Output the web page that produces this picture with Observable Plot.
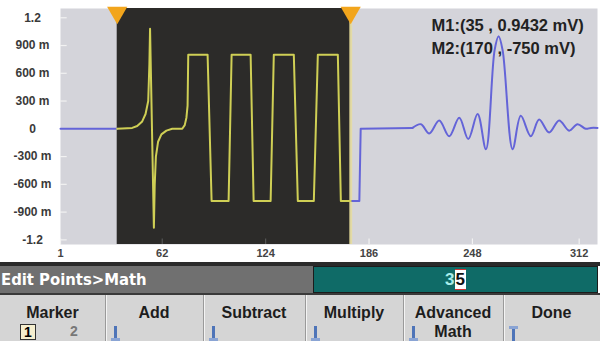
<!DOCTYPE html>
<html><head><meta charset="utf-8">
<script src="https://cdn.jsdelivr.net/npm/d3@7"></script>
<script src="https://cdn.jsdelivr.net/npm/@observablehq/plot@0.6"></script>
<style>
body{margin:0;background:#fff;}
#wrap{width:600px;height:341px;position:relative;overflow:hidden;font-family:"Liberation Sans",Arial,sans-serif;}
#chart svg{display:block;background:linear-gradient(#fff 0 8px,#f6f0d2 8px);}
.abs{position:absolute;box-sizing:border-box;}
#band{left:0;top:262px;width:600px;height:4px;background:#2a2a2a;}
#crumb{left:0;top:266px;width:313px;height:27px;background:#707070;color:#fff;font-family:"DejaVu Sans Condensed","DejaVu Sans",sans-serif;font-weight:bold;font-size:16.5px;line-height:27px;padding-left:1px;white-space:nowrap;}
#entry{left:313px;top:266px;width:285px;height:27px;background:#0f6b67;border:1px solid #1c1c1c;font-weight:bold;font-size:17px;line-height:25px;text-align:center;}
#entry .c1{color:#a8eeea;}
#entry .c2{color:#111;background:#fff;padding:0 1px;border-top:1px solid #c33;border-bottom:1px solid #c33;}
#sep{left:0;top:293px;width:600px;height:2px;background:#3a3a3a;}
#keys{left:0;top:295px;width:600px;height:46px;background:#d5d5d5;}
.key{position:absolute;top:0;height:46px;border-right:1px solid #9a9a9a;box-shadow:1px 0 0 #f4f4f4;}
.lab{position:absolute;left:0;right:0;text-align:center;font-weight:bold;font-size:16px;color:#1d1d1d;line-height:17px;}
.arrow{position:absolute;top:31px;width:8px;height:15px;}
.arrow i{position:absolute;left:3px;top:0;width:3px;height:12px;background:#4e74b8;}
.arrow b{position:absolute;left:0;bottom:0;width:9px;height:3px;background:#8aa4d4;}
.arrow.up i{top:3px;}
.arrow.up b{top:0;bottom:auto;}
#m1{position:absolute;left:20px;top:29px;width:16px;height:16px;box-sizing:border-box;border:1px solid #333;background:#f6efcf;font-weight:bold;font-size:14px;text-align:center;line-height:14px;}
#m2{position:absolute;left:70px;top:29px;width:14px;height:16px;font-size:14px;line-height:15px;color:#777;font-weight:bold;}
</style>
</head><body>
<div id="wrap">
  <div id="chart"></div>
  <div class="abs" id="band"></div>
  <div class="abs" id="crumb"></div>
  <div class="abs" id="entry"><span class="c1">3</span><span class="c2">5</span></div>
  <div class="abs" id="sep"></div>
  <div class="abs" id="keys"></div>
</div>
<script>
// ---- data ----
const xTicks = [1, 62, 124, 186, 248, 312];
const yTicks = [1.2, 0.9, 0.6, 0.3, 0, -0.3, -0.6, -0.9, -1.2];
const yTickLabels = ["1.2", "900 m", "600 m", "300 m", "0", "-300 m", "-600 m", "-900 m", "-1.2"];
const markers = [35, 175];
const markerLabels = ["M1:(35 , 0.9432 mV)", "M2:(170 , -750 mV)"];

// blue trace before marker 1
const preX = [1, 35];
const preY = [0, 0];
// yellow edited span between the markers
const editX = [35, 44, 47, 50, 52, 53.6, 54.3, 54.7, 57.0, 57.5, 58.2, 59.5, 61.5, 64.5, 68, 74, 75.5, 76.5, 77.2, 77.6, 89.2, 91.6, 101.8, 103.6, 115.0, 116.8, 127.0, 128.9, 140.9, 143.3, 152.9, 155.3, 167.3, 169.1, 175];
const editY = [0, 0.01, 0.03, 0.08, 0.16, 0.3, 0.7, 1.08, -1.07, -0.6, -0.3, -0.14, -0.06, -0.02, 0, 0, 0.04, 0.12, 0.25, 0.8, 0.8, -0.78, -0.78, 0.8, 0.8, -0.78, -0.78, 0.8, 0.8, -0.78, -0.78, 0.8, 0.8, -0.78, -0.78];
// blue trace after marker 2: step back to zero
const stepX = [175, 180.2, 181.0, 212.1];
const stepY = [-0.78, -0.78, 0, 0.01];
// blue trace: ringing pulse at the right
const ringX = [212.1, 217.1, 222.1, 228.1, 234.1, 240.1, 245.5, 251.1, 256.1, 261.3, 263.7, 266.1, 272.1, 277.0, 283.0, 288.0, 294.0, 300.0, 306.0, 311.0, 316.0, 319.0, 323.0];
const ringY = [0.01, 0.05, -0.05, 0.09, -0.08, 0.12, -0.11, 0.16, -0.22, 0.85, 1.0, 0.85, -0.22, 0.14, -0.08, 0.10, -0.04, 0.09, -0.02, 0.05, 0.0, 0.01, 0.01];

// softkey row
const keyNames = ["Marker", "Add", "Subtract", "Multiply", "Advanced\nMath", "Done"];
const keyEdges = [0, 105, 203, 305, 403, 503, 600];
const crumbText = "Edit Points>Math";

// ---- chart ----
const toPts = (xs, ys) => xs.map((x, i) => ({x, y: ys[i]}));
const pre = toPts(preX, preY), edit = toPts(editX, editY), step = toPts(stepX, stepY), ring = toPts(ringX, ringY);
const xDomain = [1, 323], yDomain = [-1.25, 1.3];
const blue = "#6464d8", yellow = "#cfcf55";

const chart = Plot.plot({
  width: 600, height: 262,
  marginLeft: 60, marginRight: 3, marginTop: 8, marginBottom: 18,
  style: {background: "transparent", fontFamily: "Liberation Sans, Arial, sans-serif"},
  x: {domain: xDomain},
  y: {domain: yDomain},
  marks: [
    Plot.frame({fill: "#d4d4da", stroke: null}),
    Plot.rect([markers], {x1: d => d[0], x2: d => d[1], y1: yDomain[0], y2: yDomain[1], fill: "#2c2b29"}),
    Plot.ruleY(yTicks.filter(v => v !== 0), {y: d => d, x1: xDomain[0], x2: xDomain[0] + 4, stroke: "#f2f2f2", strokeWidth: 1.2}),
    Plot.ruleX(xTicks, {x: d => d, y1: yDomain[0], y2: yDomain[0] + 0.06, stroke: d => (d > markers[0] && d < markers[1]) ? "#555" : "#f2f2f2", strokeWidth: 1.2}),
    Plot.ruleX([markers[1]], {x: d => d, stroke: "#e6dc98", strokeWidth: 3, strokeOpacity: 0.8}),
    Plot.line(pre, {x: "x", y: "y", stroke: blue, strokeWidth: 2}),
    Plot.line(step, {x: "x", y: "y", stroke: blue, strokeWidth: 2}),
    Plot.line(ring, {x: "x", y: "y", stroke: blue, strokeWidth: 2, curve: "catmull-rom"}),
    Plot.line(edit, {x: "x", y: "y", stroke: yellow, strokeWidth: 2}),
    Plot.dot(markers, {x: d => d, y: yDomain[1], symbol: "triangle", r: 7.5, fill: "#f2a51c", rotate: 180, dy: 4}),
    Plot.text([markerLabels.join("\n")], {frameAnchor: "top-right", textAnchor: "start", lineAnchor: "top", dx: -166, dy: 6, lineHeight: 1.4, fontSize: 16.5, fontWeight: "bold", fill: "#222"}),
    Plot.axisY(yTicks, {tickSize: 0, tickPadding: 28, textAnchor: "middle", label: null, tickFormat: d => yTickLabels[yTicks.indexOf(d)], fontSize: 12, fontWeight: "bold", fill: "#3a3a3a"}),
    Plot.axisX(xTicks, {tickSize: 0, tickPadding: 5, label: null, tickFormat: d => String(d), fontSize: 11, fontWeight: "bold", fill: "#444"})
  ]
});
document.getElementById("chart").appendChild(chart);

// ---- softkeys ----
document.getElementById("crumb").textContent = crumbText;
const keys = document.getElementById("keys");
keyNames.forEach((name, i) => {
  const k = document.createElement("div");
  k.className = "key";
  k.style.left = keyEdges[i] + "px";
  k.style.width = (keyEdges[i + 1] - keyEdges[i]) + "px";
  if (i === keyNames.length - 1) k.style.borderRight = "none";
  const lines = name.split("\n");
  lines.forEach((t, j) => {
    const l = document.createElement("div");
    l.className = "lab";
    l.style.top = (9 + j * 19) + "px";
    l.textContent = t;
    k.appendChild(l);
  });
  if (i === 0) {
    const a = document.createElement("div"); a.id = "m1"; a.textContent = "1"; k.appendChild(a);
    const b = document.createElement("div"); b.id = "m2"; b.textContent = "2"; k.appendChild(b);
  } else {
    const ar = document.createElement("div");
    ar.className = "arrow" + (i === keyNames.length - 1 ? " up" : "");
    ar.style.left = "6px";
    ar.innerHTML = "<i></i><b></b>";
    k.appendChild(ar);
  }
  keys.appendChild(k);
});
</script>
</body></html>
